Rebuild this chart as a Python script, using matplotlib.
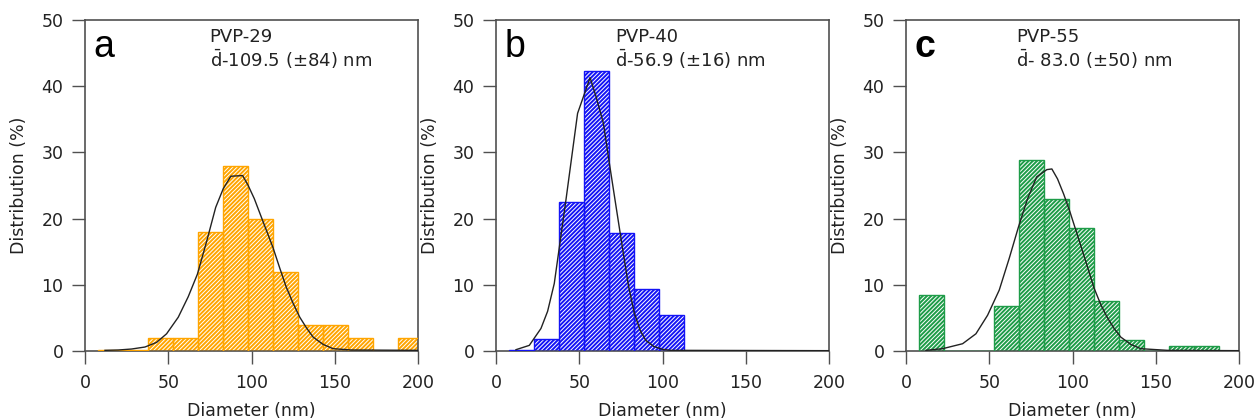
import matplotlib
matplotlib.use("Agg")
import matplotlib.pyplot as plt
import numpy as np

plt.rcParams['font.family'] = ['DejaVu Sans']
plt.rcParams['mathtext.fontset'] = 'dejavusans'
plt.rcParams['hatch.linewidth'] = 0.7

# bin centres (nm), width 15 nm
bin_centers = [15.4, 30.4, 45.4, 60.4, 75.4, 90.4, 105.4, 120.4, 135.4, 150.4, 165.4, 180.4, 195.4]
bin_width = 15

# 分布 (%)
dist_a = [0.2, 0.2, 2.0, 2.0, 18.0, 28.0, 20.0, 11.9, 4.0, 4.0, 2.0, 0.0, 2.0]
dist_b = [0.2, 1.8, 22.5, 42.3, 17.8, 9.3, 5.5, 0, 0, 0, 0, 0, 0]
dist_c = [8.4, 0, 0, 6.8, 28.9, 22.9, 18.6, 7.6, 1.6, 0, 0.7, 0.7, 0]

# fitted curves
fit_a_x = [12, 20, 28, 36, 43, 49, 56, 62, 67.5, 73, 78.5, 83, 87.6, 94.7, 98, 101.7, 107, 112.8, 117, 120.8, 125, 129, 133, 137, 143, 149, 160, 200]
fit_a_y = [0.1, 0.15, 0.3, 0.6, 1.3, 2.6, 5.1, 8.2, 11.6, 16.5, 21.7, 24.5, 26.4, 26.5, 25.0, 23.0, 19.5, 15.7, 12.5, 9.7, 7.2, 5.1, 3.5, 2.1, 1.0, 0.35, 0.15, 0.1]
fit_b_x = [12, 20, 27, 31, 35, 42, 49, 56.5, 60, 64.5, 68, 71.5, 76, 79.6, 83, 86.6, 90, 94.7, 100, 105, 200]
fit_b_y = [0.2, 0.85, 3.4, 6.0, 10.2, 22.8, 35.9, 41.3, 38.5, 34.4, 28.5, 22.8, 15.5, 9.8, 5.8, 3.1, 1.6, 0.7, 0.25, 0.1, 0.05]
fit_c_x = [12, 22, 34, 42, 49, 56, 62, 67.5, 73, 78.5, 84.6, 87.6, 91, 94.7, 98.5, 102.7, 108, 112.8, 117, 120.8, 125, 129, 135, 141, 157, 200]
fit_c_y = [0.1, 0.35, 1.1, 2.6, 5.4, 9.2, 14.0, 18.7, 23.0, 26.3, 27.4, 27.5, 26.0, 23.7, 21.0, 17.7, 13.5, 9.6, 7.0, 5.1, 3.4, 2.1, 1.0, 0.35, 0.1, 0.05]

letters = ['a', 'b', 'c']
samples = ['PVP-29', 'PVP-40', 'PVP-55']
means = [r'$\bar{\mathrm{d}}$-109.5 (±84) nm', r'$\bar{\mathrm{d}}$-56.9 (±16) nm', r'$\bar{\mathrm{d}}$- 83.0 (±50) nm']
colors = ['#FFA500', '#1414F5', '#1E9C48']

dists = [dist_a, dist_b, dist_c]
fits = [(fit_a_x, fit_a_y), (fit_b_x, fit_b_y), (fit_c_x, fit_c_y)]

fig = plt.figure(figsize=(12.59, 4.2), dpi=100)
lefts = [85 / 1259, 496 / 1259, 906 / 1259]
text_x = [0.374, 0.358, 0.331]
spine_col = '#505050'

for i in range(3):
    ax = fig.add_axes([lefts[i], 1 - 351 / 420, 333 / 1259, 331 / 420])
    # hatch fill
    ax.bar(bin_centers, dists[i], width=bin_width, color=colors[i], edgecolor='white',
           hatch='////////', linewidth=0, zorder=2)
    # outline
    ax.bar(bin_centers, dists[i], width=bin_width, fill=False, edgecolor=colors[i],
           linewidth=1.0, zorder=3)
    ax.plot(fits[i][0], fits[i][1], color='#222222', linewidth=1.0, zorder=4)

    ax.set_xlim(0, 200)
    ax.set_ylim(0, 50)
    ax.set_xticks([0, 50, 100, 150, 200])
    ax.set_yticks([0, 10, 20, 30, 40, 50])
    ax.tick_params(direction='out', length=9.5, width=1.0, color=spine_col,
                   labelsize=12.5, labelcolor='#222222')
    ax.tick_params(axis='x', pad=7)
    ax.tick_params(axis='y', pad=6)
    for s in ax.spines.values():
        s.set_color(spine_col)
        s.set_linewidth(1.2)

    ax.set_xlabel('Diameter (nm)', fontsize=12.5, color='#222222')
    ax.xaxis.set_label_coords(0.5, -0.155)
    ax.set_ylabel('Distribution (%)', fontsize=12.5, color='#222222')
    ax.yaxis.set_label_coords(-0.17, 0.5)

    ax.text(0.025, 0.888, letters[i], transform=ax.transAxes, fontsize=27,
            family='Liberation Sans', fontweight='bold' if i == 2 else 'normal',
            va='baseline', ha='left')
    ax.text(text_x[i], 0.934, samples[i], transform=ax.transAxes, fontsize=13,
            va='baseline', ha='left', color='#222222')
    ax.text(text_x[i], 0.858, means[i], transform=ax.transAxes, fontsize=13,
            va='baseline', ha='left', color='#222222')

fig.savefig('out.png', dpi=100)
